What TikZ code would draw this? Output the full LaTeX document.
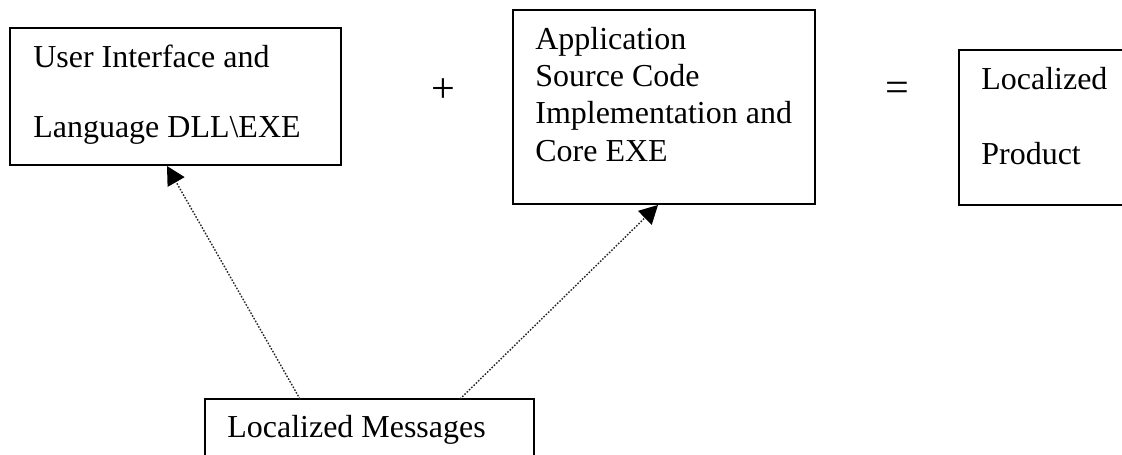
\documentclass[tikz,border=0pt]{standalone}
\usepackage{xcolor}
\usepackage{fontspec}
\setmainfont{Liberation Serif}
\usetikzlibrary{arrows.meta}

\tikzset{
  caja/.style={draw=black, line width=1pt, minimum width=#1, inner sep=0pt},
  texto/.style={anchor=base west, inner sep=0pt, font=\fontsize{18.2}{22}\selectfont},
  signo/.style={inner sep=0pt, font=\fontsize{24}{28}\selectfont},
  enlace/.style={draw=black!85, line width=0.8pt, dash pattern=on 0.9pt off 0.9pt,
    -{Triangle[length=10.5pt,width=11pt,sep=0pt,color=black,fill=black]}}
}

\begin{document}
\begin{tikzpicture}[x=0.02cm, y=-0.02cm]

    % Marco de la imagen
    \useasboundingbox (0,0) rectangle (1122,455);
    \clip (0,0) rectangle (1122,455);

    % Cajas
    \node[caja=6.62cm, minimum height=2.74cm] (ui) at (175.5,96.5) {};
    \node[caja=6.04cm, minimum height=3.88cm] (app) at (664,107) {};
    \node[caja=3.82cm, minimum height=3.1cm] (prod) at (1054.5,127.5) {};
    \node[caja=6.58cm, minimum height=1.64cm] (msg) at (369.5,440) {};

    % Textos de la caja izquierda
    \node[texto] (ui1) at (33,68) {User Interface and};
    \node[texto] (ui2) at (33,138) {Language DLL\textbackslash EXE};

    % Textos de la caja central
    \node[texto] (app1) at (535,50) {Application};
    \node[texto] (app2) at (535,87) {Source Code};
    \node[texto] (app3) at (535,124) {Implementation and};
    \node[texto] (app4) at (535,162) {Core EXE};

    % Textos de la caja derecha
    \node[texto] (prod1) at (981,90) {Localized};
    \node[texto] (prod2) at (981,165) {Product};

    % Texto de la caja inferior
    \node[texto] (msg1) at (227,438) {Localized Messages};

    % Signos
    \node[signo] (mas) at (443,91) {+};
    \node[signo] (igual) at (897,92) {=};

    % Puntos de las flechas
    \coordinate (msgL) at (300,399);
    \coordinate (msgR) at (460,399);
    \coordinate (uiIn) at (167,166);
    \coordinate (appIn) at (658,205);

    % Flechas punteadas
    \draw[enlace] (msgL) -- (uiIn);
    \draw[enlace] (msgR) -- (appIn);

\end{tikzpicture}
\end{document}
